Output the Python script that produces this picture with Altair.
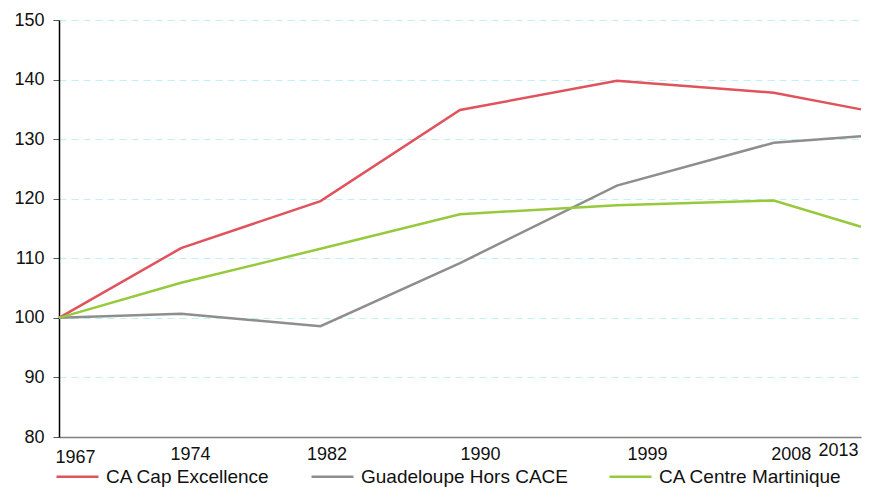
import altair as alt
import pandas as pd

years = [1967, 1974, 1982, 1990, 1999, 2008, 2013]
series_names = ["CA Cap Excellence", "Guadeloupe Hors CACE", "CA Centre Martinique"]
cap_excellence = [100, 111.7, 119.6, 134.9, 139.8, 137.8, 135.0]
guadeloupe_hors = [100, 100.7, 98.6, 109.2, 122.2, 129.4, 130.5]
centre_martinique = [100, 105.9, 111.6, 117.4, 118.9, 119.7, 115.3]
y_ticks = [80, 90, 100, 110, 120, 130, 140, 150]
colors = ["#E0525C", "#8E8E8E", "#97C93D"]

rows = []
for name, vals in zip(series_names, [cap_excellence, guadeloupe_hors, centre_martinique]):
    for yr, v in zip(years, vals):
        rows.append({"year": yr, "value": v, "series": name})
df = pd.DataFrame(rows)

FONT = "Liberation Sans"

x_offsets = {1967: 16, 1974: 9, 1982: 6, 1990: 20, 1999: 30, 2008: 17, 2013: -23}
x_pads = {1967: 11, 2013: 4}

label_offset = {
    "condition": [{"test": f"datum.value == {k}", "value": v} for k, v in x_offsets.items()],
    "value": 0,
}
label_padding = {
    "condition": [{"test": f"datum.value == {k}", "value": v} for k, v in x_pads.items()],
    "value": 8,
}

chart = alt.Chart(df).mark_line(strokeWidth=2.5).encode(
    x=alt.X("year:Q",
            scale=alt.Scale(domain=[1967, 2013], nice=False, zero=False),
            axis=alt.Axis(values=years, format="d", title=None, grid=False,
                          ticks=False, domainColor="#808080", domainWidth=1.5,
                          labelFont=FONT, labelFontSize=18, labelColor="#111",
                          labelOffset=label_offset, labelPadding=label_padding,
                          labelFlush=False, labelOverlap=False)),
    y=alt.Y("value:Q",
            scale=alt.Scale(domain=[80, 150], nice=False, zero=False),
            axis=alt.Axis(values=y_ticks, title=None, grid=True,
                          gridColor="#BFF0F8", gridDash=[7, 5], gridWidth=1.2,
                          domainColor="#000000", domainWidth=1.5,
                          tickColor="#555555", tickSize=6,
                          labelFont=FONT, labelFontSize=18, labelColor="#111",
                          labelPadding=9)),
    color=alt.Color("series:N",
                    scale=alt.Scale(domain=series_names, range=colors),
                    sort=series_names,
                    legend=alt.Legend(title=None, orient="none", direction="horizontal",
                                      legendX=-4, legendY=434,
                                      symbolType="stroke", symbolSize=1764,
                                      symbolStrokeWidth=2.5,
                                      labelFont=FONT, labelFontSize=19, labelColor="#111",
                                      labelOffset=6, columnPadding=36,
                                      labelLimit=400)),
).properties(
    width=802, height=417,
    background="white",
    autosize=alt.AutoSizeParams(type="none"),
    padding={"left": 51, "top": 12, "right": 3, "bottom": 52},
).configure_view(stroke=None)

chart.save("out.html", embed_options={"renderer": "svg", "actions": False})
